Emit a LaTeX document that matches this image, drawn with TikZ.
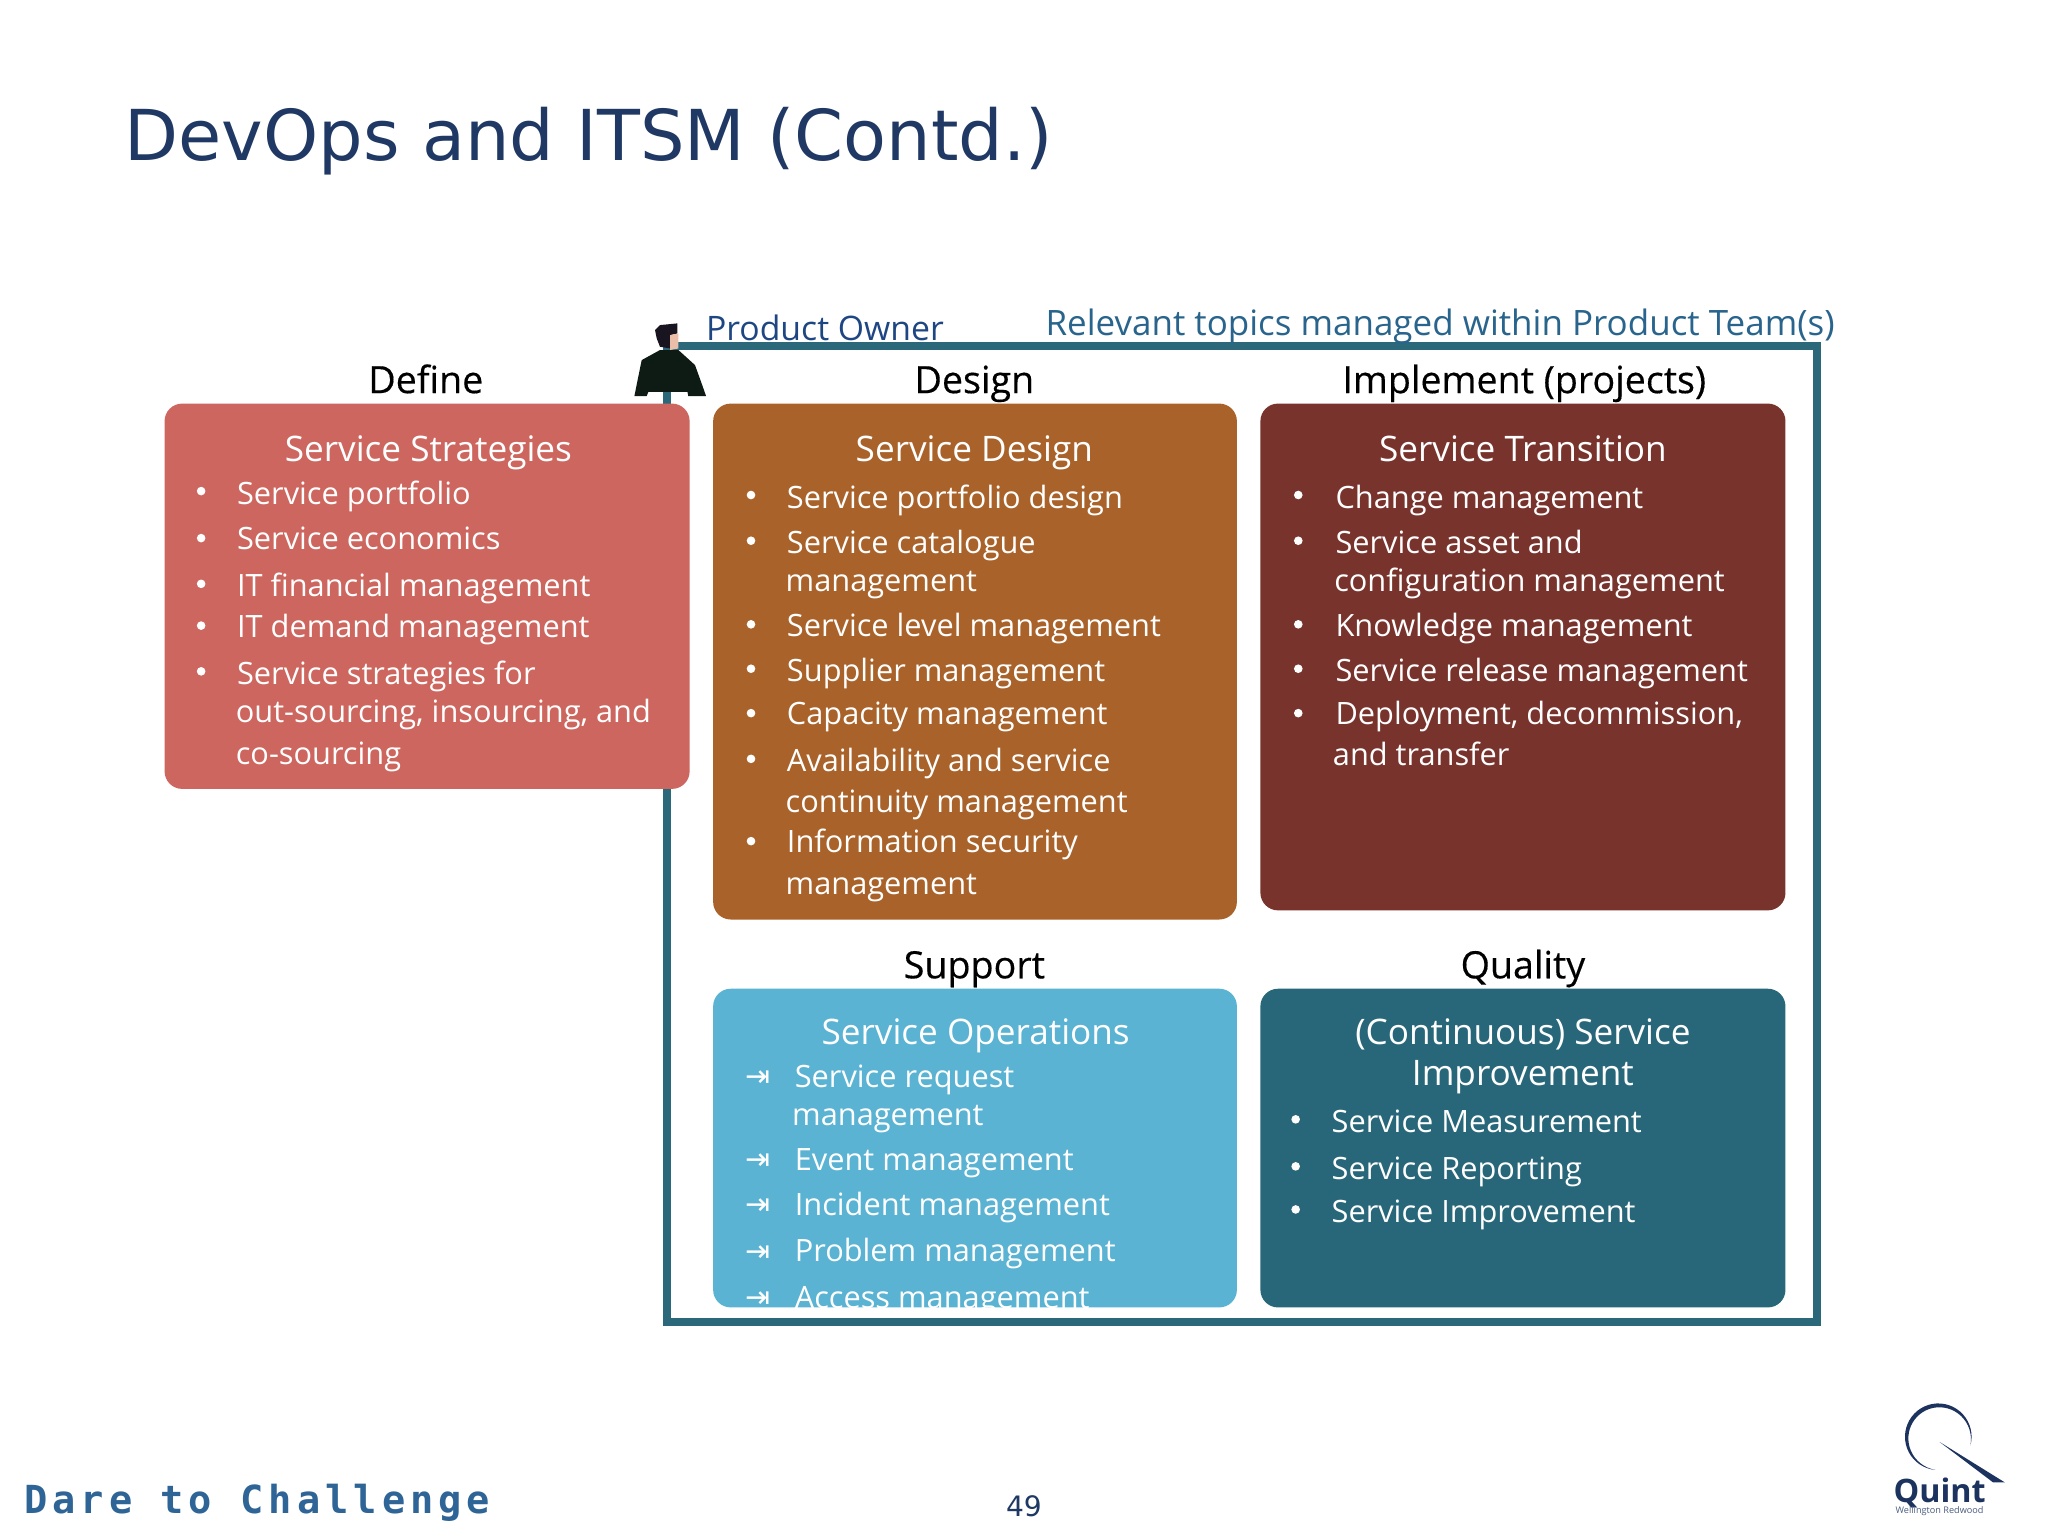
\documentclass[tikz,border=0pt]{standalone}
\usepackage{fontspec}
\setmainfont{Open Sans}
\newfontfamily\titlefont{DejaVu Sans}
\newfontfamily\headfont[FakeBold=0.35]{Open Sans}
\newfontfamily\tagfont[LetterSpace=13]{DejaVu Sans Mono}
\usetikzlibrary{calc}
\definecolor{navy}{RGB}{31, 56, 100}
\definecolor{ownerblue}{RGB}{30, 70, 130}
\definecolor{topicblue}{RGB}{40, 100, 140}
\definecolor{tagblue}{RGB}{47, 100, 150}
\definecolor{logoblue}{RGB}{28, 50, 95}
\definecolor{frameteal}{RGB}{42, 104, 122}
\definecolor{suitdark}{RGB}{14, 26, 20}
\definecolor{hairdark}{RGB}{24, 20, 32}
\definecolor{skintone}{RGB}{235, 190, 170}
\definecolor{mypink}{RGB}{205, 102, 94}
\definecolor{mybrown}{RGB}{168, 98, 42}
\definecolor{mymaroon}{RGB}{120, 51, 45}
\definecolor{mycyan}{RGB}{90, 179, 210}
\definecolor{myteal}{RGB}{40, 103, 121}
\tikzset{
  head/.style={anchor=base, font=\headfont\fontsize{10.7}{12}\selectfont, text=black},
  boxtitle/.style={anchor=base, text=white, font=\fontsize{10}{12}\selectfont},
  entry/.style={anchor=base west, text=white, inner sep=0pt, font=\fontsize{8.75}{10}\selectfont},
  bullet/.style={white, radius=3.3},
  box/.style={rounded corners=5pt}
}
\begin{document}
\begin{tikzpicture}[x=0.01306cm, y=-0.01306cm]
\useasboundingbox (0,0) rectangle (1568,1176);
\node[anchor=base west, inner sep=0pt, text=navy, font=\titlefont\fontsize{19.97}{24}\selectfont] (title) at (95,123) {DevOps and ITSM (Contd.)};

% product team frame
\draw[frameteal, line width=2.3pt] (511,265) rectangle (1391,1012);
\node[anchor=base west, inner sep=0pt, text=ownerblue, font=\fontsize{9.6}{11}\selectfont] (owner) at (540,261) {Product Owner};
\node[anchor=base west, inner sep=0pt, text=topicblue, font=\fontsize{9.95}{11}\selectfont] (topics) at (800,257) {Relevant topics managed within Product Team(s)};

% owner figure
\fill[suitdark] (505.3,268) -- (519.4,268) -- (532.1,279.5) -- (537.2,293.6) -- (540.6,303.3) -- (527,303.3) -- (526.3,300) -- (496.4,300) -- (495.1,303.3) -- (485.7,303.3) -- (488.7,288.4) -- (491.3,275.7) -- cycle;
\fill[hairdark] (501.5,252.7) -- (505.3,248.9) -- (518.6,247.6) -- (518.6,255.3) -- (513,256.6) -- (513,266.8) -- (505.3,265.5) -- (502.8,259.1) -- cycle;
\fill[skintone] (513,256.6) -- (519.4,255.3) -- (519.4,266.8) -- (513,268) -- cycle;

% headings
\node[head] (define) at (326,301) {Define};
\node[head] (design) at (746,301) {Design};
\node[head] (implement) at (1167,301) {Implement (projects)};
\node[head] (support) at (746,749) {Support};
\node[head] (quality) at (1166,749) {Quality};

% define
\fill[box, mypink] (126,309) rectangle (528,604);
\node[boxtitle] (strategies) at (328,353) {Service Strategies};
\foreach \xpos/\ypos/\txt [count=\i] in {181/386/Service portfolio, 181/421/Service economics, 181/457/IT financial management, 181/488/IT demand management, 181/524/Service strategies for, 180/553/{out-sourcing, insourcing, and}, 180/585/co-sourcing}
  \node[entry] (st\i) at (\xpos,\ypos) {\txt};
\foreach \ypos in {376,412,447,479,514}
  \fill[bullet] (154,\ypos) circle;

% design
\fill[box, mybrown] (546,309) rectangle (947,704);
\node[boxtitle] (sdesign) at (746,353) {Service Design};
\foreach \xpos/\ypos/\txt [count=\i] in {602/389/Service portfolio design, 602/424/Service catalogue, 601/453/management, 602/487/Service level management, 602/522/Supplier management, 602/555/Capacity management, 602/591/Availability and service, 601/622/continuity management, 602/653/Information security, 601/685/management}
  \node[entry] (sd\i) at (\xpos,\ypos) {\txt};
\foreach \ypos in {379,414,478,512,546,581,644}
  \fill[bullet] (575,\ypos) circle;

% transition
\fill[box, mymaroon] (965,309) rectangle (1367,697);
\node[boxtitle] (transition) at (1166,353) {Service Transition};
\foreach \xpos/\ypos/\txt [count=\i] in {1022/389/Change management, 1022/424/Service asset and, 1021/453/configuration management, 1022/487/Knowledge management, 1022/522/Service release management, 1022/555/{Deployment, decommission,}, 1020/586/and transfer}
  \node[entry] (tr\i) at (\xpos,\ypos) {\txt};
\foreach \ypos in {379,414,478,512,546}
  \fill[bullet] (994,\ypos) circle;

% operations, last line is cut off by the box
\fill[box, mycyan] (546,757) rectangle (947,1001);
\node[boxtitle] (operations) at (747,800) {Service Operations};
\begin{scope}
\clip[box] (546,757) rectangle (947,1001);
\foreach \xpos/\ypos/\txt [count=\i] in {608/833/Service request, 606/862/management, 608/896/Event management, 608/931/Incident management, 608/966/Problem management, 608/1002/Access management}
  \node[entry] (op\i) at (\xpos,\ypos) {\txt};
\foreach \ypos [count=\i] in {826,889,924,960,995}
  \node[anchor=center, inner sep=0pt, text=white, font=\titlefont\fontsize{8.5}{10}\selectfont] (tab\i) at (580,\ypos) {⇥};
\end{scope}

% improvement
\fill[box, myteal] (965,757) rectangle (1367,1001);
\node[boxtitle] (continuous) at (1166,800) {(Continuous) Service};
\node[boxtitle] (improvement) at (1166,831) {Improvement};
\foreach \ypos/\txt [count=\i] in {867/Service Measurement, 903/Service Reporting, 936/Service Improvement}
  \node[entry] (im\i) at (1019,\ypos) {\txt};
\foreach \ypos in {857,893,926}
  \fill[bullet] (992,\ypos) circle;

% footer
\node[anchor=base west, inner sep=0pt, text=tagblue, font=\tagfont\bfseries\fontsize{11}{13}\selectfont] (tagline) at (18,1159) {Dare to Challenge};
\node[anchor=base, inner sep=0pt, text=navy, font=\titlefont\fontsize{8}{10}\selectfont] (pagenum) at (784,1161) {49};

% logo
\fill[logoblue] plot[domain=95:375, samples=40] ({1484+25.5*cos(\x)},{1100+25.5*sin(\x)}) -- plot[domain=375:95, samples=40] ({1484+(25.5-3.2*sin((\x-95)/280*180))*cos(\x)},{1100+(25.5-3.2*sin((\x-95)/280*180))*sin(\x)}) -- cycle;
\fill[logoblue] (1485,1104) -- (1535,1135) -- (1526,1135) -- cycle;
\node[anchor=base, inner sep=0pt, text=logoblue, font=\bfseries\fontsize{9.2}{11}\selectfont] (quint) at (1485,1150) {Quint};
\node[anchor=base, inner sep=0pt, text=logoblue!80, font=\fontsize{2.6}{3}\selectfont] (wellington) at (1485,1159) {Wellington Redwood};
\end{tikzpicture}
\end{document}
